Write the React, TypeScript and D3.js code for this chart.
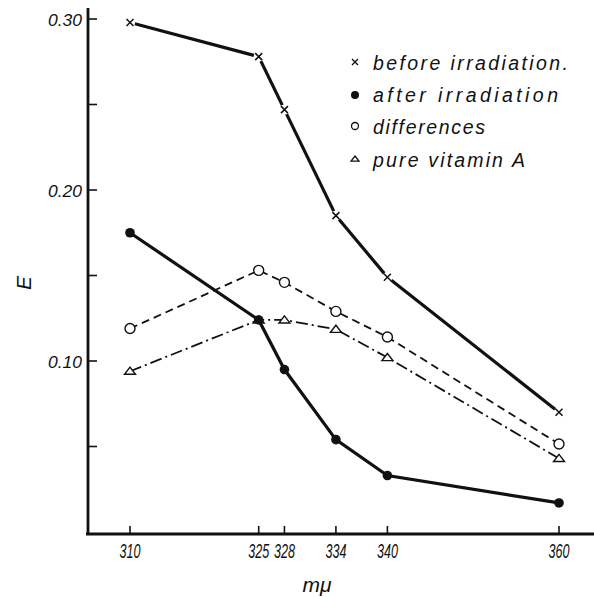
import React from "react";
import * as d3 from "d3";

const wavelengths = [310, 325, 328, 334, 340, 360];
const beforeIrr = [0.298, 0.278, 0.247, 0.185, 0.149, 0.070];
const afterIrr = [0.175, 0.124, 0.095, 0.054, 0.033, 0.017];
const differences = [0.119, 0.153, 0.146, 0.129, 0.114, 0.0515];
const pureVitA = [0.094, 0.124, 0.124, 0.1185, 0.102, 0.043];
const yTicks = [0.05, 0.1, 0.15, 0.2, 0.25, 0.3];
const yTickLabels: Record<string, string> = { "0.1": "0.10", "0.2": "0.20", "0.3": "0.30" };
const xTickLabels = ["310", "325", "328", "334", "340", "360"];
const legendLabels = ["before irradiation.", "after irradiation", "differences", "pure vitamin A"];

const W = 594;
const H = 597;
const FONT = "'Liberation Sans', 'DejaVu Sans', sans-serif";
const INK = "#111";

export default function App() {
  const x = d3.scaleLinear().domain([310, 360]).range([130, 559]);
  const y = d3.scaleLinear().domain([0, 0.3]).range([532, 19]);
  const axisX = 88;
  const axisY = 534;

  const pts = (vals: number[]) => wavelengths.map((w, i) => [x(w), y(vals[i])] as [number, number]);
  const line = d3.line();

  // before irradiation: solid thick segments with small gaps around markers
  const bp = pts(beforeIrr);
  const gap = 5;
  const beforeSegs = bp.slice(1).map((p, i) => {
    const a = bp[i];
    const dx = p[0] - a[0];
    const dy = p[1] - a[1];
    const len = Math.hypot(dx, dy);
    const ux = dx / len;
    const uy = dy / len;
    return [a[0] + ux * gap, a[1] + uy * gap, p[0] - ux * gap, p[1] - uy * gap];
  });

  const ap = pts(afterIrr);
  const dp = pts(differences);
  const vp = pts(pureVitA);

  const tri = (cx: number, cy: number, s: number) =>
    `M${cx},${cy - s * 0.75} L${cx + s},${cy + s * 0.55} L${cx - s},${cy + s * 0.55} Z`;
  const cross = (cx: number, cy: number, s: number) =>
    `M${cx - s},${cy - s} L${cx + s},${cy + s} M${cx - s},${cy + s} L${cx + s},${cy - s}`;

  const legendX = 355;
  const legendTextX = 373;
  const legendBaselines = [70, 102, 134, 167];
  const legendWidths = [195, 185, 112, 152];

  return (
    <svg
      width={W}
      height={H}
      style={{ position: "absolute", left: 0, top: 0, background: "#fff" }}
      xmlns="http://www.w3.org/2000/svg"
    >
      <rect x={0} y={0} width={W} height={H} fill="#fff" />
      {/* axes */}
      <line x1={axisX} y1={8} x2={axisX} y2={axisY + 1} stroke={INK} strokeWidth={2.8} />
      <line x1={axisX - 2} y1={axisY} x2={W} y2={axisY} stroke={INK} strokeWidth={2.8} />
      {yTicks.map((t) => (
        <line key={t} x1={axisX} x2={axisX + 9} y1={y(t)} y2={y(t)} stroke={INK} strokeWidth={1.6} />
      ))}
      {yTicks
        .filter((t) => yTickLabels[String(t)])
        .map((t) => (
          <text
            key={t}
            x={82}
            y={y(t) + 7}
            textAnchor="end"
            fontFamily={FONT}
            fontStyle="italic"
            fontSize={17}
            fill={INK}
            textLength={34}
            lengthAdjust="spacingAndGlyphs"
          >
            {yTickLabels[String(t)]}
          </text>
        ))}
      {wavelengths.map((w) => (
        <line key={w} x1={x(w)} x2={x(w)} y1={axisY} y2={axisY - 8} stroke={INK} strokeWidth={1.6} />
      ))}
      {wavelengths.map((w, i) => (
        <text
          key={w}
          x={x(w)}
          y={558}
          textAnchor="middle"
          fontFamily={FONT}
          fontStyle="italic"
          fontSize={21}
          fill={INK}
          textLength={21}
          lengthAdjust="spacingAndGlyphs"
        >
          {xTickLabels[i]}
        </text>
      ))}
      <text x={317} y={592} textAnchor="middle" fontFamily={FONT} fontStyle="italic" fontSize={21} fill={INK}>
        mμ
      </text>
      <text
        transform="translate(31,283) rotate(-90)"
        textAnchor="middle"
        fontFamily={FONT}
        fontStyle="italic"
        fontSize={21}
        fill={INK}
      >
        E
      </text>

      {/* pure vitamin A: dash-dot */}
      <path d={line(vp) || ""} fill="none" stroke={INK} strokeWidth={1.8} strokeDasharray="12 4 2 4" />
      {/* differences: dashed */}
      <path d={line(dp) || ""} fill="none" stroke={INK} strokeWidth={1.8} strokeDasharray="8 5" />
      {/* after irradiation: solid */}
      <path d={line(ap) || ""} fill="none" stroke={INK} strokeWidth={3.2} />
      {/* before irradiation: solid with gaps */}
      {beforeSegs.map((s, i) => (
        <line key={i} x1={s[0]} y1={s[1]} x2={s[2]} y2={s[3]} stroke={INK} strokeWidth={3.2} />
      ))}

      {/* markers */}
      {vp.map((p, i) => (
        <path key={"v" + i} d={tri(p[0], p[1], 5.5)} fill="#fff" stroke={INK} strokeWidth={1.4} />
      ))}
      {dp.map((p, i) => (
        <circle key={"d" + i} cx={p[0]} cy={p[1]} r={5} fill="#fff" stroke={INK} strokeWidth={1.4} />
      ))}
      {ap.map((p, i) => (
        <circle key={"a" + i} cx={p[0]} cy={p[1]} r={4.8} fill={INK} />
      ))}
      {bp.map((p, i) => (
        <path key={"b" + i} d={cross(p[0], p[1], 3.5)} fill="none" stroke={INK} strokeWidth={1.5} />
      ))}

      {/* legend */}
      <path d={cross(legendX, legendBaselines[0] - 8, 3)} stroke={INK} strokeWidth={1.4} fill="none" />
      <circle cx={legendX} cy={legendBaselines[1] - 7} r={4} fill={INK} />
      <circle cx={legendX} cy={legendBaselines[2] - 8} r={3.5} fill="#fff" stroke={INK} strokeWidth={1.3} />
      <path d={tri(legendX, legendBaselines[3] - 8, 4)} fill="#fff" stroke={INK} strokeWidth={1.3} />
      {legendLabels.map((l, i) => (
        <text
          key={l}
          x={legendTextX}
          y={legendBaselines[i]}
          fontFamily={FONT}
          fontStyle="italic"
          fontSize={19.5}
          fill={INK}
          textLength={legendWidths[i]}
          lengthAdjust="spacing"
        >
          {l}
        </text>
      ))}
    </svg>
  );
}
